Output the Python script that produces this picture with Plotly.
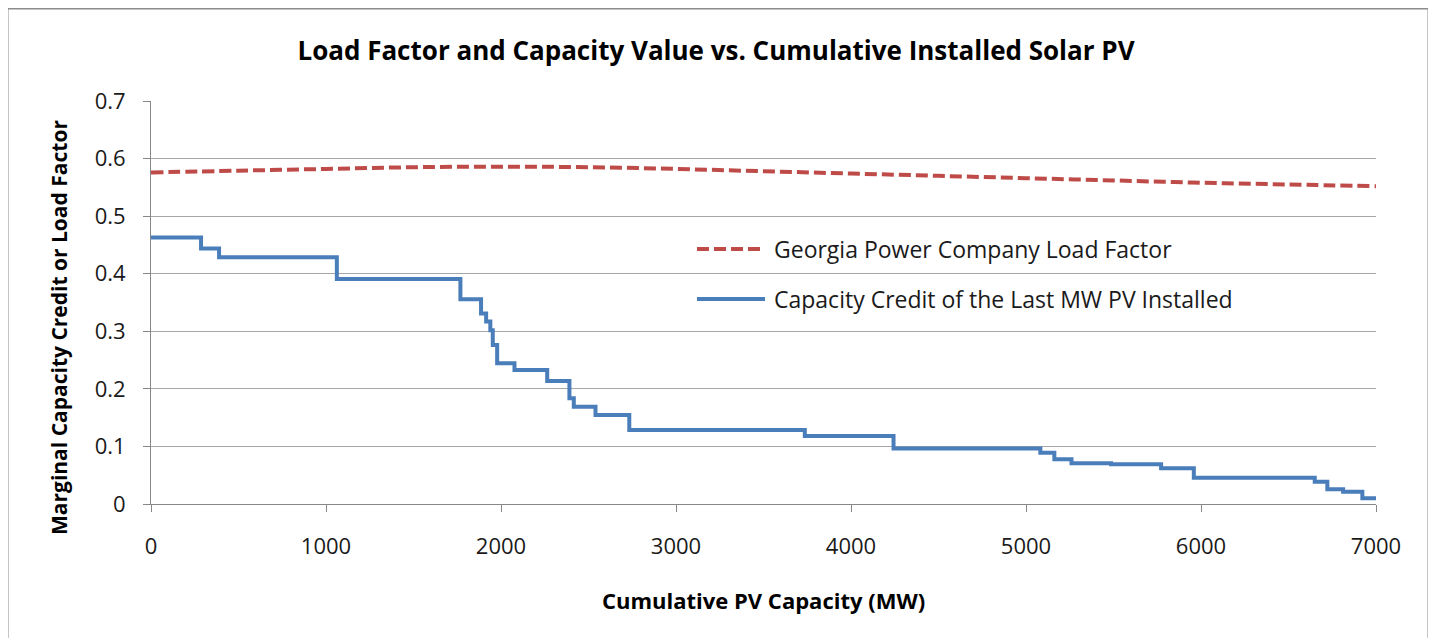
import plotly.graph_objects as go

# Load factor (red dashed)
lf_x = [0, 500, 1000, 1500, 2000, 2500, 3000, 3500, 4000, 4500, 5000, 5500, 6000, 6500, 7000]
lf_y = [0.576, 0.579, 0.582, 0.585, 0.586, 0.585, 0.582, 0.578, 0.574, 0.570, 0.566, 0.562, 0.558, 0.555, 0.552]

# Capacity credit of last MW (blue step)
cc_x = [0, 286, 389, 1062, 1768, 1886, 1915, 1939, 1953, 1978, 2077, 2264, 2391, 2416, 2540,
        2733, 3736, 4243, 5082, 5162, 5260, 5486, 5772, 5959, 6650, 6722, 6812, 6922, 7000]
cc_y = [0.463, 0.444, 0.4285, 0.391, 0.3555, 0.331, 0.317, 0.302, 0.276, 0.2444, 0.2328, 0.2137, 0.1836, 0.169, 0.1546,
        0.1285, 0.118, 0.0965, 0.089, 0.0776, 0.0707, 0.069, 0.062, 0.0457, 0.0387, 0.0255, 0.0214, 0.0099, 0.0099]

x_ticks = [0, 1000, 2000, 3000, 4000, 5000, 6000, 7000]
y_ticks = [0, 0.1, 0.2, 0.3, 0.4, 0.5, 0.6, 0.7]
y_tick_labels = ["0", "0.1", "0.2", "0.3", "0.4", "0.5", "0.6", "0.7"]

title_text = "Load Factor and Capacity Value vs. Cumulative Installed Solar PV"
x_title = "Cumulative PV Capacity (MW)"
y_title = "Marginal Capacity Credit or Load Factor"
lf_name = "Georgia Power Company Load Factor"
cc_name = "Capacity Credit of the Last MW PV Installed"

RED = "#be4b48"
BLUE = "#4a7ebb"
FONT = "Open Sans"

# the page body adds an 8px offset; all pixel positions below are reference pixels
OFF = 8
W, H = 1436, 638
L, R, T, B = 151 - OFF, 60 + OFF, 101 - OFF, 134 + OFF
pw, ph = W - L - R, H - T - B

def px2x(p):
    return (p - OFF - L) / pw

def py2y(p):
    return (H - B - (p - OFF)) / ph

fig = go.Figure()
fig.add_trace(go.Scatter(x=lf_x, y=lf_y, mode="lines", name=lf_name, line_shape="spline",
                         line=dict(color=RED, width=4, dash="12px,5px"), showlegend=False))
fig.add_trace(go.Scatter(x=cc_x, y=cc_y, mode="lines", name=cc_name, line_shape="hv",
                         line=dict(color=BLUE, width=4), showlegend=False))

fig.update_layout(
    width=W, height=H,
    margin=dict(l=L, r=R, t=T, b=B, autoexpand=False),
    paper_bgcolor="white", plot_bgcolor="white",
    font=dict(family=FONT, size=22, color="#1a1a1a"),
    title=dict(text="<b>" + title_text + "</b>", x=(716 - OFF) / W, xanchor="center",
               y=1 - (51 - OFF) / H, yanchor="middle", yref="container",
               font=dict(family=FONT, size=26, color="#000")),
    xaxis=dict(range=[0, 7000], tickvals=x_ticks, ticks="outside", ticklen=7, tickcolor="#888",
               showline=True, linecolor="#888", linewidth=1, showgrid=False, zeroline=False,
               ticklabelstandoff=16, fixedrange=True, automargin=False),
    yaxis=dict(range=[0, 0.7], tickvals=y_ticks, ticktext=y_tick_labels, ticks="outside", ticklen=7,
               tickcolor="#888", showline=True, linecolor="#888", linewidth=1,
               showgrid=True, gridcolor="#a6a6a6", gridwidth=1, zeroline=False,
               ticklabelstandoff=13, fixedrange=True, automargin=False),
)

# axis titles
fig.add_annotation(text="<b>" + x_title + "</b>", xref="paper", yref="paper",
                   x=px2x(763), y=py2y(600), showarrow=False, xanchor="center", yanchor="middle",
                   font=dict(family=FONT, size=22, color="#000"))
fig.add_annotation(text="<b>" + y_title + "</b>", xref="paper", yref="paper", textangle=-90,
                   x=px2x(59), y=py2y(328), showarrow=False, xanchor="center", yanchor="middle",
                   font=dict(family=FONT, size=21, color="#000"))

# legend drawn inside plot
for yy, color, dash, label in [(249, RED, "12px,5px", lf_name), (299, BLUE, "solid", cc_name)]:
    fig.add_shape(type="line", xref="paper", yref="paper", x0=px2x(697), x1=px2x(765),
                  y0=py2y(yy), y1=py2y(yy), line=dict(color=color, width=4, dash=dash))
    fig.add_annotation(text=label, xref="paper", yref="paper", x=px2x(772), y=py2y(yy),
                       showarrow=False, xanchor="left", yanchor="middle",
                       font=dict(family=FONT, size=23, color="#1a1a1a"))

# outer chart frame
fig.add_shape(type="rect", xref="paper", yref="paper", x0=px2x(7), x1=px2x(1429),
              y0=py2y(660), y1=py2y(8), line=dict(color="#8c8c8c", width=3), layer="below")

fig.write_html("out.html")
